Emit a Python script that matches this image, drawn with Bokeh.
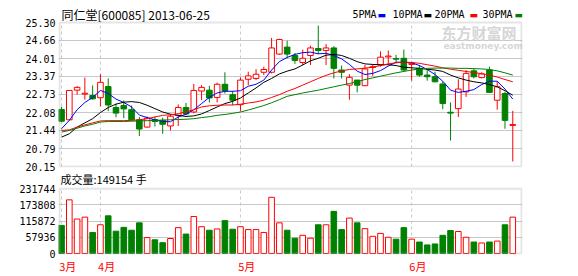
from bokeh.plotting import figure
from bokeh.layouts import column
from bokeh.models import (Range1d, FixedTicker, Label, ColumnDataSource,
                          PrintfTickFormatter, BoxAnnotation)
from bokeh.embed import file_html
from bokeh.resources import INLINE

# ---------------- data ----------------
stock_name = "同仁堂"
stock_code = "600085"
date_str = "2013-06-25"
last_volume = 149154

opens = [22.19, 21.82, 22.88, 22.74, 22.69, 22.61, 23.01, 22.26, 22.33, 22.18,
         21.82, 21.56, 21.83, 21.80, 21.60, 21.98, 22.26, 22.10, 22.85, 22.88,
         22.62, 23.09, 22.72, 22.36, 23.27, 23.30, 23.52, 23.52, 24.17, 24.42,
         24.12, 23.87, 24.12, 24.37, 24.30, 24.39, 23.60, 23.06, 23.24, 23.04,
         23.69, 23.78, 24.07, 24.01, 24.02, 23.80, 23.66, 23.42, 23.36, 23.10,
         22.09, 22.22, 22.82, 23.57, 23.33, 23.60, 22.52, 22.76, 21.62]
highs = [22.28, 22.88, 23.03, 23.33, 23.05, 23.45, 23.30, 22.40, 22.51, 22.33,
         21.92, 21.94, 21.94, 21.90, 22.03, 22.37, 22.42, 23.10, 23.06, 23.04,
         23.15, 23.52, 22.85, 23.34, 23.54, 23.63, 23.72, 24.75, 24.72, 24.65,
         24.21, 24.33, 24.47, 25.19, 24.53, 24.45, 23.76, 23.45, 23.24, 23.78,
         23.81, 24.27, 24.30, 24.14, 24.33, 23.90, 23.78, 23.60, 23.54, 23.18,
         22.44, 23.27, 23.60, 23.64, 23.52, 23.72, 23.18, 22.82, 22.14]
lows = [21.74, 21.80, 22.72, 22.54, 22.54, 22.30, 22.13, 21.91, 21.88, 21.80,
        21.24, 21.54, 21.58, 21.32, 21.44, 21.60, 21.99, 22.05, 22.52, 22.44,
        22.44, 22.76, 22.34, 22.14, 23.06, 23.24, 23.42, 23.48, 24.14, 24.02,
        23.82, 23.78, 23.78, 24.17, 23.78, 23.30, 23.30, 22.54, 22.80, 23.03,
        23.39, 23.72, 23.78, 23.84, 23.54, 23.22, 23.36, 23.22, 23.16, 22.20,
        21.08, 21.92, 22.64, 23.30, 23.30, 22.79, 22.18, 21.50, 20.33]
closes = [21.77, 22.87, 22.98, 22.77, 22.57, 23.16, 22.35, 22.06, 22.21, 21.82,
          21.49, 21.88, 21.76, 21.66, 21.95, 22.26, 22.03, 22.87, 22.98, 22.60,
          23.09, 22.85, 22.52, 23.24, 23.39, 23.45, 23.62, 24.39, 24.69, 24.17,
          23.94, 24.02, 24.39, 24.30, 24.39, 23.66, 23.52, 23.34, 23.06, 23.64,
          23.72, 24.06, 24.10, 23.99, 23.60, 23.84, 23.42, 23.36, 23.18, 22.40,
          22.06, 22.92, 23.48, 23.36, 23.46, 22.80, 23.00, 21.80, 21.65]
volumes = [100500, 191800, 123300, 130100, 75300, 102700, 134700, 79900, 93600, 83300,
           109600, 57100, 49100, 38800, 53700, 92500, 69600, 132400, 95900, 83300,
           87900, 117600, 86800, 95900, 85600, 85600, 75300, 200900, 109600, 83300,
           54800, 65100, 54800, 102700, 102700, 150700, 85600, 126700, 109600, 89000,
           61600, 71900, 58200, 51400, 92500, 51400, 41100, 30800, 34200, 65100,
           82200, 78800, 58200, 41100, 37700, 41100, 44500, 102700, 130100]
ma5 = [21.50, 21.80, 22.18, 22.44, 22.62, 22.87, 22.76, 22.56, 22.44, 22.28,
       21.99, 21.90, 21.82, 21.76, 21.75, 21.92, 22.02, 22.18, 22.40, 22.62,
       22.78, 22.84, 22.84, 22.86, 23.02, 23.09, 23.24, 23.60, 23.90, 24.05,
       24.16, 24.22, 24.24, 24.18, 24.20, 24.12, 24.00, 23.80, 23.56, 23.44,
       23.48, 23.58, 23.74, 23.88, 23.88, 23.86, 23.76, 23.62, 23.44, 23.20,
       22.88, 22.80, 22.84, 22.90, 23.08, 23.20, 23.20, 22.92, 22.56]
ma10 = [21.20, 21.32, 21.56, 21.71, 21.86, 22.08, 22.26, 22.38, 22.45, 22.47,
        22.44, 22.34, 22.22, 22.10, 22.02, 21.98, 21.94, 21.96, 22.03, 22.15,
        22.28, 22.40, 22.48, 22.60, 22.78, 22.96, 23.16, 23.30, 23.46, 23.56,
        23.64, 23.78, 23.93, 24.02, 24.13, 24.16, 24.12, 24.02, 23.90, 23.82,
        23.80, 23.79, 23.79, 23.76, 23.70, 23.68, 23.66, 23.63, 23.60, 23.55,
        23.42, 23.32, 23.24, 23.18, 23.14, 23.08, 23.00, 22.86, 22.70]
ma20 = [21.44, 21.46, 21.56, 21.64, 21.71, 21.78, 21.79, 21.79, 21.79, 21.80,
        21.82, 21.86, 21.92, 21.98, 22.00, 22.04, 22.10, 22.18, 22.28, 22.32,
        22.34, 22.35, 22.35, 22.38, 22.42, 22.46, 22.52, 22.62, 22.72, 22.84,
        22.94, 23.06, 23.18, 23.30, 23.41, 23.50, 23.57, 23.62, 23.64, 23.67,
        23.70, 23.76, 23.82, 23.86, 23.88, 23.87, 23.84, 23.79, 23.74, 23.68,
        23.63, 23.59, 23.55, 23.51, 23.47, 23.42, 23.35, 23.26, 23.18]
ma30 = [21.38, 21.44, 21.52, 21.60, 21.66, 21.74, 21.76, 21.76, 21.76, 21.77,
        21.78, 21.79, 21.80, 21.81, 21.82, 21.83, 21.84, 21.86, 21.90, 21.93,
        21.98, 22.01, 22.05, 22.10, 22.17, 22.25, 22.33, 22.43, 22.54, 22.66,
        22.72, 22.78, 22.83, 22.88, 22.94, 23.00, 23.06, 23.12, 23.18, 23.26,
        23.32, 23.38, 23.44, 23.50, 23.55, 23.60, 23.64, 23.66, 23.67, 23.67,
        23.67, 23.66, 23.66, 23.65, 23.64, 23.62, 23.57, 23.50, 23.42]

price_ticks = [20.15, 20.79, 21.44, 22.08, 22.73, 23.37, 24.01, 24.66, 25.30]
volume_ticks = [0, 57936, 115872, 173808, 231744]
month_starts = [0, 5, 23, 45]
month_labels = ["3月", "4月", "5月", "6月"]
ma_names = ["5PMA", "10PMA", "20PMA", "30PMA"]

# ---------------- styles / layout constants ----------------
UP = "#ff0000"
DOWN = "#008000"
MA_COLORS = ["#0000ff", "#000000", "#ff0000", "#008000"]
GRID = "#c8c8c8"
FRAME = "#a8a8a8"
MONO = "DejaVu Sans Mono"
CJK = "Noto Sans CJK SC"

W = 578
LEFT, RIGHT = 58, 56                      # side borders (px)
X0, X1 = -0.39, 59.25                     # visible index range
PX_PER_IDX = (W - LEFT - RIGHT) / (X1 - X0)

n = len(closes)
idx = list(range(n))
is_up = [c >= o for o, c in zip(opens, closes)]
src = ColumnDataSource(dict(
    x=idx, high=highs, low=lows,
    top=[max(o, c) for o, c in zip(opens, closes)],
    bottom=[min(o, c) for o, c in zip(opens, closes)],
    color=[UP if u else DOWN for u in is_up],
    fill=["#ffffff" if u else DOWN for u in is_up],
    vol=volumes,
))

x_range = Range1d(X0, X1)
box_left = X0 + 1.0 / PX_PER_IDX
box_right = X1 - 1.0 / PX_PER_IDX


def style(fig, yticks, fmt, lo, hi, standoff):
    fig.outline_line_color = None
    fig.background_fill_color = "white"
    fig.border_fill_color = "white"
    ax = fig.yaxis[0]
    ax.ticker = FixedTicker(ticks=yticks)
    ax.formatter = PrintfTickFormatter(format=fmt)
    ax.major_tick_line_color = None
    ax.minor_tick_line_color = None
    ax.major_tick_out = 0
    ax.major_tick_in = 0
    ax.axis_line_color = None
    ax.major_label_standoff = standoff
    ax.major_label_text_font = MONO
    ax.major_label_text_font_size = "10px"
    ax.major_label_text_color = "#000000"
    for g in fig.ygrid:
        g.ticker = FixedTicker(ticks=yticks[1:-1])
        g.grid_line_color = GRID
        g.grid_line_width = 1
    for g in fig.xgrid:
        g.visible = False
    # month separators (dashed) limited to the chart box
    fig.segment(x0=month_starts, y0=[lo] * len(month_starts),
                x1=month_starts, y1=[hi] * len(month_starts),
                line_color=GRID, line_width=1, line_dash="3 3")
    # chart box
    fig.add_layout(BoxAnnotation(left=box_left, right=box_right, bottom=lo,
                                 top=hi, fill_color=None, line_color=FRAME,
                                 line_width=2, level="overlay"))


# ---------------- price chart ----------------
PH = 171
P_TOP_PX = 22          # chart box top (px, from page top)
P_BOX_H = 144          # chart box height (px)
P_FRAME_H = PH - 4     # frame from 0 to 167
py = P_BOX_H / (price_ticks[-1] - price_ticks[0])
p_lo = price_ticks[0] - (P_FRAME_H - P_TOP_PX - P_BOX_H) / py
p_hi = price_ticks[-1] + P_TOP_PX / py

p = figure(width=W, height=PH, x_range=x_range, y_range=Range1d(p_lo, p_hi),
           output_backend="svg", toolbar_location=None, x_axis_location=None,
           min_border_left=LEFT, min_border_right=RIGHT, min_border_top=0,
           min_border_bottom=PH - P_FRAME_H)
style(p, price_ticks, "%.2f", price_ticks[0], price_ticks[-1], 3)

p.segment(x0="x", y0="high", x1="x", y1="low", line_color="color",
          line_width=1, source=src)
p.vbar(x="x", width=0.72, top="top", bottom="bottom", fill_color="fill",
       line_color="color", line_width=1, source=src)
for ma, col in zip([ma5, ma10, ma20, ma30], MA_COLORS):
    p.line(idx, ma, line_color=col, line_width=1)


def plabel(xpx, ypx, text, **kw):
    """Label placed by page pixel position inside the price frame."""
    p.add_layout(Label(x=xpx - LEFT, y=P_FRAME_H - ypx, x_units="screen",
                       y_units="screen", text=text, text_baseline="middle",
                       text_align="left", **kw))


# watermark
plabel(441, 32, "东方财富网", text_font=CJK, text_font_size="15px",
       text_font_style="bold", text_color="#d6d6d6")
plabel(443, 45, "eastmoney.com", text_font="DejaVu Sans", text_font_size="9px",
       text_font_style="bold", text_color="#d6d6d6")

# title
plabel(61, 14, f"{stock_name}[{stock_code}] {date_str}", text_font=CJK,
       text_font_size="12px", text_color="#000000")

# legend
legend_x = [352, 392, 434, 482]
mark_x = [377, 423, 469, 514]
for name, col, lx, mx in zip(ma_names, MA_COLORS, legend_x, mark_x):
    plabel(lx, 14, name, text_font=MONO, text_font_size="10px",
           text_color="#000000")
    plabel(mx, 14, "\u25ac", text_font="DejaVu Sans", text_font_size="9px",
           text_color=col)

# ---------------- volume chart ----------------
VH = 105
V_TOP_PX = 18          # box top below figure top
V_BOX_H = 68
V_FRAME_H = VH - 18    # frame from figure top, bottom border 18
vy = V_BOX_H / (volume_ticks[-1] - volume_ticks[0])
v_lo = volume_ticks[0] - (V_FRAME_H - V_TOP_PX - V_BOX_H) / vy
v_hi = volume_ticks[-1] + V_TOP_PX / vy

v = figure(width=W, height=VH, x_range=x_range, y_range=Range1d(v_lo, v_hi),
           output_backend="svg", toolbar_location=None,
           min_border_left=LEFT, min_border_right=RIGHT, min_border_top=0,
           min_border_bottom=VH - V_FRAME_H)
style(v, volume_ticks, "%d", volume_ticks[0], volume_ticks[-1], 3)

v.vbar(x="x", width=0.72, top="vol", bottom=0, fill_color="fill",
       line_color="color", line_width=1, source=src)

xa = v.xaxis[0]
label_pos = [m + 0.8 for m in month_starts]
xa.ticker = FixedTicker(ticks=label_pos)
xa.major_label_overrides = {pos: lab for pos, lab in zip(label_pos, month_labels)}
xa.major_tick_line_color = None
xa.minor_tick_line_color = None
xa.major_tick_out = 0
xa.major_tick_in = 0
xa.axis_line_color = None
xa.major_label_standoff = 3
xa.major_label_text_font = CJK
xa.major_label_text_font_size = "11px"
xa.major_label_text_color = "#ff0000"

v.add_layout(Label(x=2, y=V_FRAME_H - 11, x_units="screen", y_units="screen",
                   text=f"成交量:{last_volume} 手", text_font=CJK,
                   text_font_size="11px", text_baseline="middle",
                   text_align="left", text_color="#000000"))

layout = column(p, v, spacing=0)
open("out.html", "w").write(file_html(layout, INLINE))
